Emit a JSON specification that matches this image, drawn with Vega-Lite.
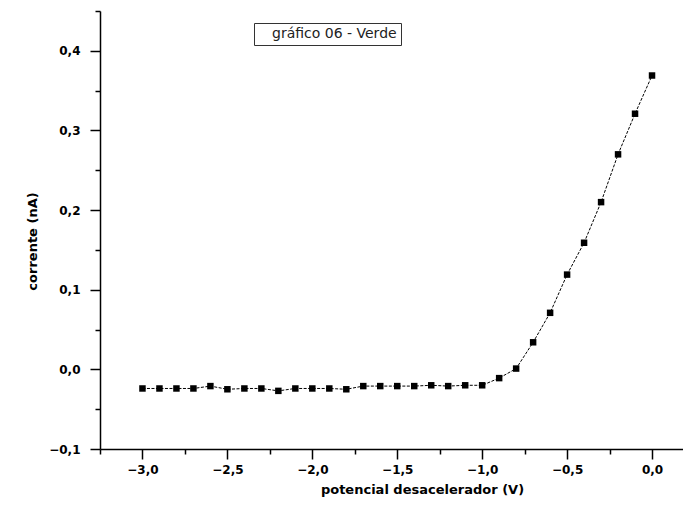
{
  "$schema": "https://vega.github.io/schema/vega-lite/v6.json",
  "width": 586,
  "height": 438,
  "autosize": "none",
  "padding": {"left": 100, "top": 11, "right": 0, "bottom": 69},
  "background": "white",
  "config": {
    "view": {"stroke": null},
    "axis": {
      "grid": false,
      "labelFont": "DejaVu Sans",
      "labelFontWeight": "bold",
      "labelFontSize": 12,
      "labelColor": "black",
      "titleFont": "DejaVu Sans",
      "titleFontWeight": "bold",
      "titleFontSize": 13,
      "titleColor": "black",
      "domainColor": "black",
      "tickColor": "black",
      "domainWidth": 1.5,
      "tickWidth": 1.5
    }
  },
  "data": {
    "values": [
      {"v": -3.0, "i": -0.024, "serie": "gráfico 06 - Verde"},
      {"v": -2.9, "i": -0.024, "serie": "gráfico 06 - Verde"},
      {"v": -2.8, "i": -0.024, "serie": "gráfico 06 - Verde"},
      {"v": -2.7, "i": -0.024, "serie": "gráfico 06 - Verde"},
      {"v": -2.6, "i": -0.021, "serie": "gráfico 06 - Verde"},
      {"v": -2.5, "i": -0.025, "serie": "gráfico 06 - Verde"},
      {"v": -2.4, "i": -0.024, "serie": "gráfico 06 - Verde"},
      {"v": -2.3, "i": -0.024, "serie": "gráfico 06 - Verde"},
      {"v": -2.2, "i": -0.027, "serie": "gráfico 06 - Verde"},
      {"v": -2.1, "i": -0.024, "serie": "gráfico 06 - Verde"},
      {"v": -2.0, "i": -0.024, "serie": "gráfico 06 - Verde"},
      {"v": -1.9, "i": -0.024, "serie": "gráfico 06 - Verde"},
      {"v": -1.8, "i": -0.025, "serie": "gráfico 06 - Verde"},
      {"v": -1.7, "i": -0.021, "serie": "gráfico 06 - Verde"},
      {"v": -1.6, "i": -0.021, "serie": "gráfico 06 - Verde"},
      {"v": -1.5, "i": -0.021, "serie": "gráfico 06 - Verde"},
      {"v": -1.4, "i": -0.021, "serie": "gráfico 06 - Verde"},
      {"v": -1.3, "i": -0.020, "serie": "gráfico 06 - Verde"},
      {"v": -1.2, "i": -0.021, "serie": "gráfico 06 - Verde"},
      {"v": -1.1, "i": -0.020, "serie": "gráfico 06 - Verde"},
      {"v": -1.0, "i": -0.020, "serie": "gráfico 06 - Verde"},
      {"v": -0.9, "i": -0.011, "serie": "gráfico 06 - Verde"},
      {"v": -0.8, "i": 0.001, "serie": "gráfico 06 - Verde"},
      {"v": -0.7, "i": 0.034, "serie": "gráfico 06 - Verde"},
      {"v": -0.6, "i": 0.071, "serie": "gráfico 06 - Verde"},
      {"v": -0.5, "i": 0.119, "serie": "gráfico 06 - Verde"},
      {"v": -0.4, "i": 0.159, "serie": "gráfico 06 - Verde"},
      {"v": -0.3, "i": 0.210, "serie": "gráfico 06 - Verde"},
      {"v": -0.2, "i": 0.270, "serie": "gráfico 06 - Verde"},
      {"v": -0.1, "i": 0.321, "serie": "gráfico 06 - Verde"},
      {"v": 0.0, "i": 0.369, "serie": "gráfico 06 - Verde"}
    ]
  },
  "resolve": {"axis": {"x": "independent", "y": "independent"}},
  "layer": [
    {
      "mark": {"type": "line", "color": "black", "strokeWidth": 1, "strokeDash": [3, 1.5]},
      "encoding": {
        "x": {"field": "v", "type": "quantitative", "scale": {"domain": [-3.25, 0.2], "nice": false, "zero": false}, "axis": null},
        "y": {"field": "i", "type": "quantitative", "scale": {"domain": [-0.1, 0.45], "nice": false, "zero": false}, "axis": null}
      }
    },
    {
      "mark": {"type": "point", "shape": "square", "filled": true, "size": 42, "opacity": 1},
      "encoding": {
        "x": {
          "field": "v", "type": "quantitative",
          "scale": {"domain": [-3.25, 0.2], "nice": false, "zero": false},
          "axis": {
            "orient": "bottom",
            "values": [-3.0, -2.5, -2.0, -1.5, -1.0, -0.5, 0.0],
            "tickSize": 10,
            "labelPadding": 5,
            "labelExpr": "replace(format(datum.value, '.1f'), '.', ',')",
            "title": "potencial desacelerador (V)",
            "titlePadding": 8,
            "titleX": 322
          }
        },
        "y": {
          "field": "i", "type": "quantitative",
          "scale": {"domain": [-0.1, 0.45], "nice": false, "zero": false},
          "axis": {
            "orient": "left",
            "values": [-0.1, 0.0, 0.1, 0.2, 0.3, 0.4],
            "tickSize": 10,
            "labelPadding": 10,
            "labelExpr": "replace(format(datum.value, '.1f'), '.', ',')",
            "title": "corrente (nA)",
            "titlePadding": 9,
            "titleY": 230
          }
        },
        "color": {
          "field": "serie", "type": "nominal",
          "scale": {"range": ["black"]},
          "legend": {
            "orient": "none",
            "legendX": 154,
            "legendY": 12,
            "title": null,
            "strokeColor": "#333333",
            "padding": 4,
            "symbolSize": 0,
            "symbolOpacity": 0,
            "symbolStrokeWidth": 0,
            "labelOffset": 0,
            "labelFont": "DejaVu Sans",
            "labelFontSize": 14,
            "labelColor": "#222222",
            "labelLimit": 300,
            "labelExpr": "'\u00a0\u00a0' + datum.label + '\u00a0\u00a0'"
          }
        }
      }
    },
    {
      "mark": {"type": "point", "opacity": 0},
      "encoding": {
        "x": {
          "field": "v", "type": "quantitative",
          "scale": {"domain": [-3.25, 0.2], "nice": false, "zero": false},
          "axis": {
            "orient": "bottom",
            "values": [-3.25, -2.75, -2.25, -1.75, -1.25, -0.75, -0.25, 0.25],
            "tickSize": 5,
            "labels": false,
            "domain": false,
            "title": null
          }
        },
        "y": {
          "field": "i", "type": "quantitative",
          "scale": {"domain": [-0.1, 0.45], "nice": false, "zero": false},
          "axis": {
            "orient": "left",
            "values": [-0.05, 0.05, 0.15, 0.25, 0.35, 0.45],
            "tickSize": 5,
            "labels": false,
            "domain": false,
            "title": null
          }
        }
      }
    }
  ]
}
